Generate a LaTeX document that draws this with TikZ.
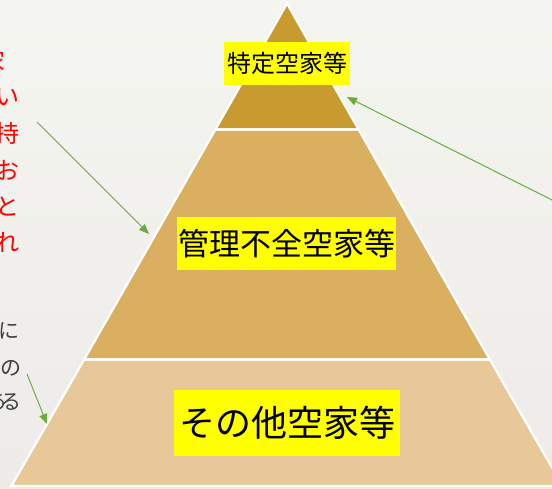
\documentclass[tikz,border=0pt]{standalone}
\usepackage{fontspec}
\newfontfamily\jp{Noto Sans CJK JP}
\usetikzlibrary{arrows.meta}
\definecolor{bgtop}{HTML}{F4F5F0}
\definecolor{bgbot}{HTML}{EEEBE8}
\definecolor{lay1}{HTML}{C89B30}
\definecolor{lay2}{HTML}{DAB060}
\definecolor{lay3}{HTML}{E8C898}
\definecolor{grn}{HTML}{6AAA40}
\definecolor{note}{HTML}{404040}
\definecolor{ylw}{HTML}{FFFF00}
\tikzset{
  layer/.style={draw=white, line width=2.2pt, line join=miter},
  label/.style={fill=ylw, inner sep=0pt, text=black, font=\jp},
  redtxt/.style={anchor=east, inner sep=0pt, text=red, font=\jp\fontsize{24}{24}\selectfont},
  graytxt/.style={anchor=east, inner sep=0pt, text=note, font=\jp\fontsize{21}{21}\selectfont},
  arr/.style={draw=grn, line width=1pt, -{Triangle[length=10pt,width=8pt]}}
}
\begin{document}
\begin{tikzpicture}[x=1pt,y=-1pt]
\useasboundingbox (0,0) rectangle (552,488);
\clip (0,0) rectangle (552,488);
\shade[top color=bgtop, bottom color=bgbot] (0,0) rectangle (552,488);
% pyramid layers
\fill[lay1] (287,3.5) -- (358.6,129.5) -- (215.4,129.5) -- cycle;
\fill[lay2] (215.4,129.5) -- (358.6,129.5) -- (489.8,359.5) -- (84.2,359.5) -- cycle;
\fill[lay3] (84.2,359.5) -- (489.8,359.5) -- (562.6,487) -- (11.4,487) -- cycle;
\draw[layer] (287,3.5) -- (358.6,129.5) -- (215.4,129.5) -- cycle;
\draw[layer] (215.4,129.5) -- (358.6,129.5) -- (489.8,359.5) -- (84.2,359.5) -- cycle;
\draw[layer] (84.2,359.5) -- (489.8,359.5) -- (562.6,486) -- (11.4,486) -- cycle;
% labels
\node[label, minimum width=126pt, minimum height=43pt, font=\jp\fontsize{24}{24}\selectfont] (top) at (287,63.5) {特定空家等};
\node[label, minimum width=219pt, minimum height=53pt, font=\jp\fontsize{31}{31}\selectfont] (mid) at (286.5,243.5) {管理不全空家等};
\node[label, minimum width=226pt, minimum height=66pt, font=\jp\fontsize{36}{36}\selectfont] (bot) at (287,422.5) {その他空家等};
% cropped red text (left)
\node[redtxt] (r1) at (6,61) {家};
\node[redtxt] (r2) at (20,97) {い};
\node[redtxt] (r3) at (20,133) {持};
\node[redtxt] (r4) at (20,170) {お};
\node[redtxt] (r5) at (20,206) {と};
\node[redtxt] (r6) at (20,242) {れ};
% cropped gray text (left)
\node[graytxt] (g1) at (20,331) {に};
\node[graytxt] (g2) at (22,368) {の};
\node[graytxt] (g3) at (22,402) {あ\kern-6pt る};
% arrows
\coordinate (a1s) at (37,122);
\coordinate (a1e) at (149,234);
\coordinate (a2s) at (27,374);
\coordinate (a2e) at (47,424);
\coordinate (a3s) at (580,214);
\coordinate (a3e) at (347,97);
\draw[arr] (a1s) -- (a1e);
\draw[arr] (a2s) -- (a2e);
\draw[arr] (a3s) -- (a3e);
\end{tikzpicture}
\end{document}
